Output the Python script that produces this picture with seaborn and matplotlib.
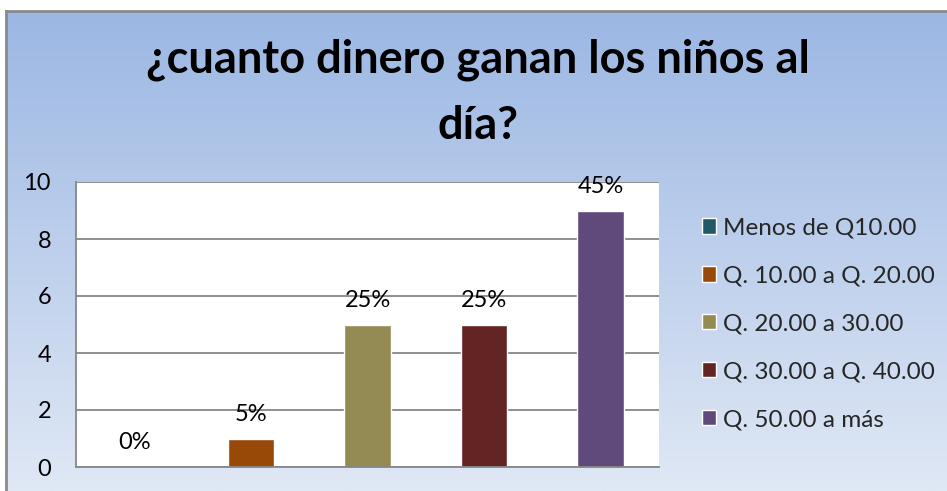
import numpy as np
import pandas as pd
import matplotlib
matplotlib.use("Agg")
import matplotlib.pyplot as plt
import seaborn as sns

# datos del grafico
categorias = ["Menos de Q10.00", "Q. 10.00 a Q. 20.00", "Q. 20.00 a 30.00",
              "Q. 30.00 a Q. 40.00", "Q. 50.00 a más"]
valores = [0, 1, 5, 5, 9]
etiquetas = ["0%", "5%", "25%", "25%", "45%"]
colores = ["#215968", "#984807", "#948A54", "#632523", "#604A7B"]
titulo = "¿cuanto dinero ganan los niños al\ndía?"

df = pd.DataFrame({"rango": categorias, "cantidad": valores})

sns.set_theme(style="white")
plt.rcParams["font.family"] = ["Lato", "DejaVu Sans"]

W, H = 947, 491
fig = plt.figure(figsize=(W / 100, H / 100), dpi=100)
fig.patch.set_facecolor("white")

# fondo con degradado y borde
bg = fig.add_axes([6 / W, 0, 1 - 6 / W, 1 - 11 / H], zorder=-5)
grad = np.linspace(0, 1, 256).reshape(-1, 1)
top = np.array([155, 183, 227]) / 255
bot = np.array([224, 232, 245]) / 255
img = top + grad[..., None] * (bot - top)
bg.imshow(img, aspect="auto", extent=[0, 1, 0, 1], origin="upper")
bg.set_xticks([])
bg.set_yticks([])
for s in ["right", "bottom"]:
    bg.spines[s].set_visible(False)
for s in ["top", "left"]:
    bg.spines[s].set_color("#8a8a8a")
    bg.spines[s].set_linewidth(2)

# area del grafico
ax = fig.add_axes([76 / W, 1 - 467 / H, (659 - 76) / W, (467 - 182) / H])
ax.set_facecolor("white")
sns.barplot(data=df, x="rango", y="cantidad", hue="rango", palette=colores,
            width=0.4, ax=ax, legend=False, saturation=1)

ax.set_ylim(0, 10)
ax.set_yticks([0, 2, 4, 6, 8, 10])
ax.set_xlim(-0.5, 4.5)
ax.set_xticks([])
ax.set_xlabel("")
ax.set_ylabel("")
ax.yaxis.grid(True, color="#868686", linewidth=1.3)
ax.set_axisbelow(True)
for s in ["top", "right"]:
    ax.spines[s].set_visible(False)
for s in ["left", "bottom"]:
    ax.spines[s].set_color("#868686")
    ax.spines[s].set_linewidth(1.3)
ax.tick_params(axis="y", length=0, pad=18, labelsize=17, labelcolor="black")

for cont, lab in zip(ax.containers, etiquetas):
    ax.bar_label(cont, labels=[lab], padding=10, fontsize=17, color="black")

fig.text(0.505, 1 - 93 / H, titulo, ha="center", va="center",
         fontsize=32.5, fontweight="bold", linespacing=1.72, color="black")

handles = [plt.Rectangle((0, 0), 1, 1, facecolor=c) for c in colores]
leg = ax.legend(handles, categorias, loc="center left",
                bbox_to_anchor=(702 / W, 1 - 324 / H), bbox_transform=fig.transFigure,
                frameon=False, fontsize=17.5, handlelength=0.58, handleheight=0.58,
                handletextpad=0.3, labelspacing=1.11, borderpad=0, borderaxespad=0)

fig.savefig("out.png", dpi=100)
